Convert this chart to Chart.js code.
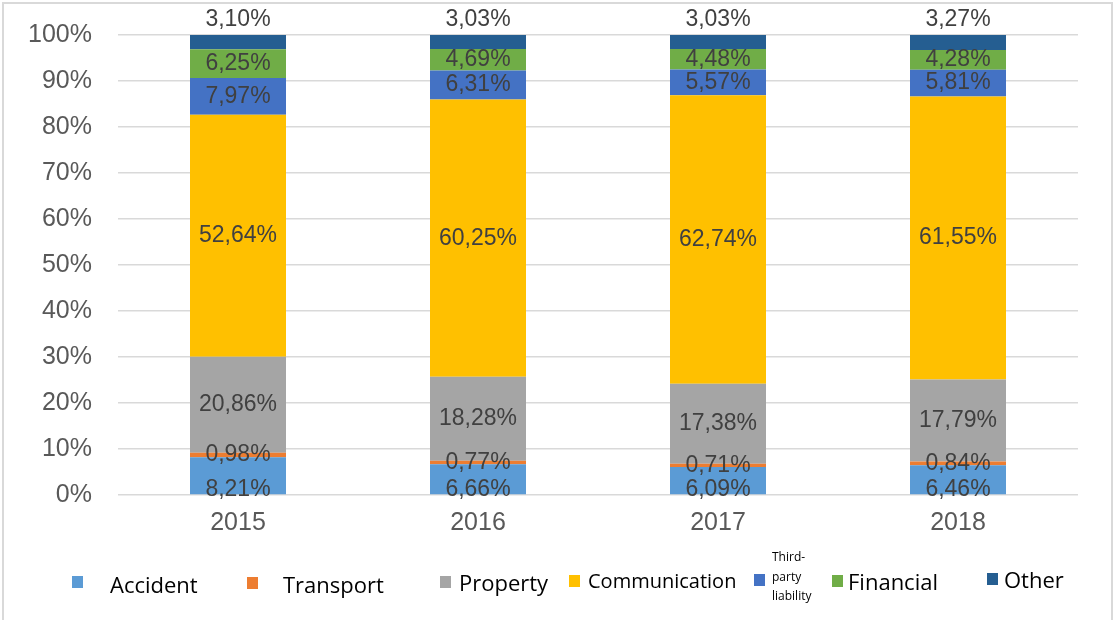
<!DOCTYPE html>
<html>
<head>
<meta charset="utf-8">
<script src="https://cdn.jsdelivr.net/npm/chart.js"></script>
<style>
  body { margin: 0; background: #fff; }
  canvas { display: block; }
</style>
</head>
<body>
<canvas id="shareChart" width="1115" height="620"></canvas>
<script>
// Dati del grafico (quote percentuali per anno)
const years = ['2015', '2016', '2017', '2018'];
const seriesNames = ['Accident', 'Transport', 'Property', 'Communication', 'Third-party liability', 'Financial', 'Other'];
const accident = [8.21, 6.66, 6.09, 6.46];
const transport = [0.98, 0.77, 0.71, 0.84];
const property = [20.86, 18.28, 17.38, 17.79];
const communication = [52.64, 60.25, 62.74, 61.55];
const thirdParty = [7.97, 6.31, 5.57, 5.81];
const financial = [6.25, 4.69, 4.48, 4.28];
const other = [3.10, 3.03, 3.03, 3.27];
const yTicks = [0, 10, 20, 30, 40, 50, 60, 70, 80, 90, 100];

const seriesValues = [accident, transport, property, communication, thirdParty, financial, other];
const colors = ['#5B9BD5', '#ED7D31', '#A5A5A5', '#FFC000', '#4472C4', '#70AD47', '#255E91'];

const fmt = v => v.toFixed(2).replace('.', ',') + '%';

// Cornice grigia attorno al grafico
const frame = {
    id: 'frame',
    beforeDraw(chart) {
        const ctx = chart.ctx;
        ctx.save();
        ctx.fillStyle = '#fff';
        ctx.fillRect(0, 0, chart.width, chart.height);
        ctx.strokeStyle = '#d9d9d9';
        ctx.lineWidth = 2;
        ctx.strokeRect(3, 3, chart.width - 6, chart.height + 10);
        ctx.restore();
    }
};

// Etichette dei segmenti
const segmentLabels = {
    id: 'segmentLabels',
    afterDatasetsDraw(chart) {
        const ctx = chart.ctx;
        const last = chart.data.datasets.length - 1;
        ctx.save();
        ctx.font = '23px "Liberation Sans", Arial, sans-serif';
        ctx.fillStyle = '#404040';
        ctx.textAlign = 'center';
        ctx.textBaseline = 'middle';
        chart.data.datasets.forEach((ds, i) => {
            chart.getDatasetMeta(i).data.forEach((bar, j) => {
                let y = (bar.y + bar.base) / 2;
                if (i === 0) y = bar.base - 5;       // accident: in fondo alla barra
                if (i === last) y = bar.y - 15;      // other: sopra la barra
                ctx.fillText(fmt(ds.data[j]), bar.x, y);
            });
        });
        ctx.restore();
    }
};

// Legenda disegnata a mano (dimensioni diverse come nell'originale)
const customLegend = {
    id: 'customLegend',
    afterDraw(chart) {
        const ctx = chart.ctx;
        const items = [
            { mx: 72, my: 576, tx: 110, ty: 593, size: 22 },
            { mx: 247, my: 577, tx: 283, ty: 593, size: 22 },
            { mx: 440, my: 576, tx: 459, ty: 591, size: 22 },
            { mx: 569, my: 575, tx: 588, ty: 588, size: 20 },
            { mx: 754, my: 574, tx: 772, ty: 561, size: 12, lines: ['Third-', 'party', 'liability'] },
            { mx: 832, my: 575, tx: 848, ty: 590, size: 22 },
            { mx: 987, my: 573, tx: 1004, ty: 588, size: 22 }
        ];
        ctx.save();
        ctx.textAlign = 'left';
        ctx.textBaseline = 'alphabetic';
        chart.data.datasets.forEach((ds, i) => {
            const it = items[i];
            ctx.fillStyle = ds.backgroundColor;
            ctx.fillRect(it.mx, it.my, 11, 12);
            ctx.fillStyle = '#000';
            ctx.font = it.size + 'px "Open Sans", sans-serif';
            if (it.lines) {
                it.lines.forEach((t, k) => ctx.fillText(t, it.tx, it.ty + k * 19.5));
            } else {
                ctx.fillText(ds.label, it.tx, it.ty);
            }
        });
        ctx.restore();
    }
};

const ctx = document.getElementById('shareChart').getContext('2d');
const shareChart = new Chart(ctx, {
    type: 'bar',
    data: {
        labels: years,
        datasets: seriesNames.map((name, i) => ({
            label: name,
            data: seriesValues[i],
            backgroundColor: colors[i],
            borderWidth: 0,
            categoryPercentage: 0.8,
            barPercentage: 0.5
        }))
    },
    options: {
        responsive: false,
        animation: false,
        layout: { padding: { top: 35, right: 37, left: 0, bottom: 0 } },
        plugins: {
            legend: { display: false },
            tooltip: { enabled: false }
        },
        scales: {
            x: {
                stacked: true,
                grid: { display: false, drawTicks: false },
                border: { display: false },
                ticks: {
                    color: '#595959',
                    padding: 13,
                    font: { family: '"Liberation Sans", Arial, sans-serif', size: 25 }
                },
                afterFit(scale) { scale.height = 125; }
            },
            y: {
                stacked: true,
                min: 0,
                max: 100,
                afterBuildTicks(scale) { scale.ticks = yTicks.map(v => ({ value: v })); },
                grid: { color: '#d9d9d9', lineWidth: 1.5, drawTicks: false },
                border: { display: false },
                ticks: {
                    color: '#595959',
                    padding: 26,
                    font: { family: '"Liberation Sans", Arial, sans-serif', size: 25 },
                    callback: v => v + '%'
                },
                afterFit(scale) {
                    scale.width = 118;
                    scale.paddingTop = 0;
                    scale.paddingBottom = 0;
                }
            }
        }
    },
    plugins: [frame, segmentLabels, customLegend]
});
</script>
</body>
</html>
